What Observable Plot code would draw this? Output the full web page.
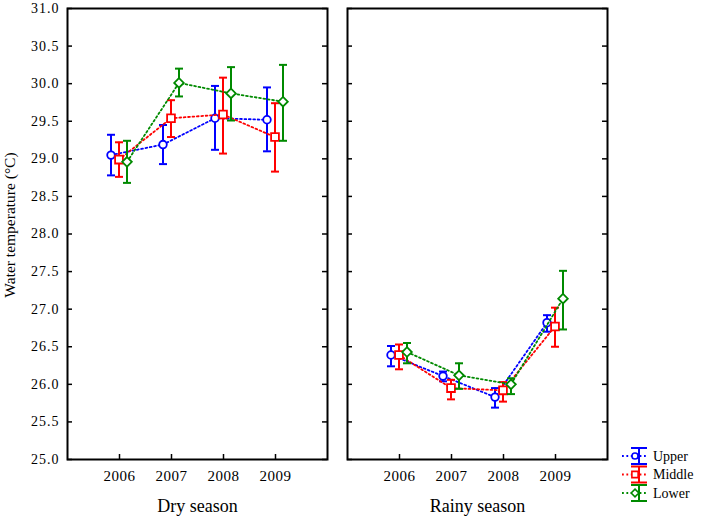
<!DOCTYPE html>
<html>
<head>
<meta charset="utf-8">
<script src="https://cdn.jsdelivr.net/npm/d3@7"></script>
<script src="https://cdn.jsdelivr.net/npm/@observablehq/plot@0.6"></script>
<style>
  html, body { margin: 0; padding: 0; background: #fff; }
  #wrap { position: relative; width: 702px; height: 526px; }
  #wrap svg text { font-family: "Liberation Serif", "Times New Roman", serif !important; }
  #legend { position: absolute; left: 618px; top: 444px; }
</style>
</head>
<body>
<div id="wrap"></div>
<script>
// ---- data ----
const years = [2006, 2007, 2008, 2009];
const sites = ["Upper", "Middle", "Lower"];
const seasons = ["Dry season", "Rainy season"];
const yTicks = [25.0, 25.5, 26.0, 26.5, 27.0, 27.5, 28.0, 28.5, 29.0, 29.5, 30.0, 30.5, 31.0];

// rows: Upper, Middle, Lower ; columns: 2006..2009
const dryMean  = [[29.05, 29.19, 29.54, 29.52], [28.99, 29.54, 29.59, 29.29], [28.96, 30.01, 29.87, 29.76]];
const dryLow   = [[28.78, 28.93, 29.12, 29.10], [28.76, 29.29, 29.07, 28.83], [28.68, 29.83, 29.51, 29.24]];
const dryHigh  = [[29.32, 29.45, 29.97, 29.95], [29.22, 29.78, 30.08, 29.74], [29.24, 30.20, 30.22, 30.25]];

const rainyMean = [[26.39, 26.11, 25.83, 26.82], [26.39, 25.95, 25.92, 26.77], [26.43, 26.12, 26.00, 27.14]];
const rainyLow  = [[26.24, 26.04, 25.69, 26.70], [26.20, 25.80, 25.77, 26.50], [26.28, 25.94, 25.87, 26.73]];
const rainyHigh = [[26.51, 26.17, 25.95, 26.92], [26.53, 26.06, 26.03, 27.02], [26.55, 26.28, 26.08, 27.51]];

// ---- styling ----
const colors = {Upper: "#0000ff", Middle: "#ff0000", Lower: "#008a00"};
const offsets = {Upper: -8.5, Middle: -0.5, Lower: 7.5};
const font = "Liberation Serif, Times New Roman, serif";

const capSymbol = {draw(ctx, size) { const w = Math.sqrt(size / Math.PI); ctx.moveTo(-w, 0); ctx.lineTo(w, 0); }};
const diamondSymbol = {draw(ctx, size) { const h = Math.sqrt(size / Math.PI); ctx.moveTo(0, -h); ctx.lineTo(h, 0); ctx.lineTo(0, h); ctx.lineTo(-h, 0); ctx.closePath(); }};
const markerSymbol = {Upper: "circle", Middle: "square", Lower: diamondSymbol};
const markerR = {Upper: 3.8, Middle: 4.4, Lower: 4.8};

const rows = [];
[[seasons[0], dryMean, dryLow, dryHigh], [seasons[1], rainyMean, rainyLow, rainyHigh]].forEach(([season, m, lo, hi]) => {
  sites.forEach((site, i) => {
    years.forEach((year, j) => {
      rows.push({season, site, year, mean: m[i][j], low: lo[i][j], high: hi[i][j]});
    });
  });
});

const siteMarks = sites.flatMap(site => {
  const data = rows.filter(d => d.site === site);
  const c = colors[site], dx = offsets[site];
  return [
    Plot.line(data, {fx: "season", x: "year", y: "mean", stroke: c, strokeWidth: 1.8, strokeDasharray: "1.8 2.6", dx}),
    Plot.ruleX(data, {fx: "season", x: "year", y1: "low", y2: "high", stroke: c, strokeWidth: 2, dx}),
    Plot.dot(data, {fx: "season", x: "year", y: "low", symbol: capSymbol, r: 4, fill: "none", stroke: c, strokeWidth: 2, dx}),
    Plot.dot(data, {fx: "season", x: "year", y: "high", symbol: capSymbol, r: 4, fill: "none", stroke: c, strokeWidth: 2, dx}),
    Plot.dot(data, {fx: "season", x: "year", y: "mean", symbol: markerSymbol[site], r: markerR[site], fill: "white", stroke: c, strokeWidth: 1.8, dx})
  ];
});

const chart = Plot.plot({
  width: 702,
  height: 526,
  marginLeft: 67,
  marginRight: 95,
  marginTop: 8,
  marginBottom: 67,
  style: {fontFamily: font, fontSize: "13px", color: "black", background: "white"},
  fx: {domain: seasons, paddingInner: 20 / 280, paddingOuter: 0, axis: null},
  x: {domain: [2005, 2010], axis: null},
  y: {domain: [25, 31], axis: null},
  marks: [
    Plot.tickY(yTicks, {y: d => d, insetRight: 255, stroke: "black", strokeWidth: 1.5}),
    Plot.tickY(yTicks, {y: d => d, insetLeft: 255, stroke: "black", strokeWidth: 1.5}),
    Plot.tickX(years, {x: d => d, insetTop: 446, stroke: "black", strokeWidth: 1.5}),
    Plot.axisY({ticks: yTicks, tickSize: 0, tickPadding: 8, tickFormat: d3.format(".1f"), label: null, fontSize: 14, fill: "black"}),
    Plot.axisX({ticks: years, tickSize: 0, tickPadding: 11, tickFormat: d3.format("d"), label: null, fontSize: 15, fill: "black"}),
    ...siteMarks,
    Plot.frame({stroke: "black", strokeWidth: 2}),
    Plot.text(seasons, {fx: d => d, text: d => d, frameAnchor: "bottom", dy: 52, fontSize: 18, fill: "black"}),
    Plot.text([seasons[0]], {fx: d => d, text: () => "Water temperature (°C)", frameAnchor: "left", textAnchor: "middle", dx: -57, dy: -9, rotate: -90, fontSize: 15.5, fill: "black"})
  ]
});

d3.select(chart).selectAll("g[aria-label='y-axis tick label'] text").attr("letter-spacing", "1px");
d3.select(chart).selectAll("g[aria-label='x-axis tick label'] text").attr("letter-spacing", "0.5px");

const wrap = document.getElementById("wrap");
wrap.appendChild(chart);

// ---- legend ----
const lg = d3.select(wrap).append("svg").attr("id", "legend").attr("width", 84).attr("height", 62);
sites.forEach((site, i) => {
  const c = colors[site];
  const cy = 12 + i * 18.5;
  const g = lg.append("g");
  g.append("line").attr("x1", 4).attr("x2", 30).attr("y1", cy).attr("y2", cy)
    .attr("stroke", c).attr("stroke-width", 1.8).attr("stroke-dasharray", "1.8 2.6");
  g.append("line").attr("x1", 21).attr("x2", 21).attr("y1", cy - 8).attr("y2", cy + 8).attr("stroke", c).attr("stroke-width", 2);
  g.append("line").attr("x1", 13).attr("x2", 29).attr("y1", cy - 8).attr("y2", cy - 8).attr("stroke", c).attr("stroke-width", 2);
  g.append("line").attr("x1", 13).attr("x2", 29).attr("y1", cy + 8).attr("y2", cy + 8).attr("stroke", c).attr("stroke-width", 2);
  let sym = markerSymbol[site] === "circle" ? d3.symbolCircle : markerSymbol[site] === "square" ? d3.symbolSquare : diamondSymbol;
  const r = markerR[site] * 0.8;
  g.append("path").attr("d", d3.symbol(sym, Math.PI * r * r)()).attr("transform", `translate(17,${cy})`)
    .attr("fill", "white").attr("stroke", c).attr("stroke-width", 1.6);
  g.append("text").attr("x", 35).attr("y", cy).attr("dy", "0.35em")
    .attr("font-size", 14).attr("fill", "black").text(site);
});
</script>
</body>
</html>
